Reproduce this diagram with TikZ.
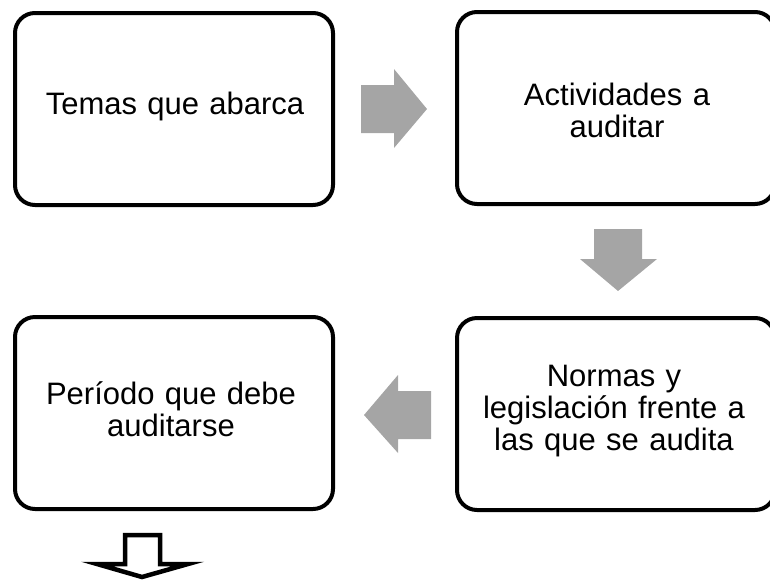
\documentclass[tikz,border=0pt]{standalone}
\usepackage{fontspec}
\setmainfont[WordSpace=1.4]{Liberation Sans}
\begin{document}
\begin{tikzpicture}[x=1pt,y=-1pt,
  box/.style={draw=black,line width=4pt,rounded corners=20pt,fill=white,
    minimum width=318pt,minimum height=192pt,inner sep=0pt},
  boxtext/.style={text width=310pt,align=center,
    font=\fontsize{31pt}{32pt}\selectfont},
  grayarrow/.style={fill=arrowgray,draw=none},
  hollowarrow/.style={draw=black,line width=4.5pt,fill=white,line join=miter}]
\definecolor{arrowgray}{HTML}{A5A5A5}
\useasboundingbox (0,0) rectangle (770,579);
\clip (0,0) rectangle (770,579);
% boxes
\node[box] (temas) at (174,109) {};
\node[boxtext] (temasT) at (175,106) {Temas que abarca};
\node[box] (activ) at (616,108) {};
\node[boxtext] (activT) at (617,110) {Actividades a\\auditar};
\node[box] (normas) at (616,414) {};
\node[boxtext] (normasT) at (614,411) {Normas y\\legislación frente a\\las que se audita};
\node[box] (periodo) at (174,413) {};
\node[boxtext] (periodoT) at (171,409) {Período que debe\\auditarse};
% gray block arrows
\fill[grayarrow] (361,85) -- (394,85) -- (394,69) -- (427,109) -- (394,148) -- (394,133) -- (361,133) -- cycle;
\fill[grayarrow] (594,229) -- (642,229) -- (642,259) -- (657,259) -- (618,291) -- (580,259) -- (594,259) -- cycle;
\fill[grayarrow] (431,391) -- (398,391) -- (398,375) -- (364,415) -- (398,453) -- (398,439) -- (431,439) -- cycle;
% hollow arrow
\draw[hollowarrow] (125,535) -- (160,535) -- (160,564) -- (188,564) -- (142,577) -- (97,564) -- (125,564) -- cycle;
\end{tikzpicture}
\end{document}
